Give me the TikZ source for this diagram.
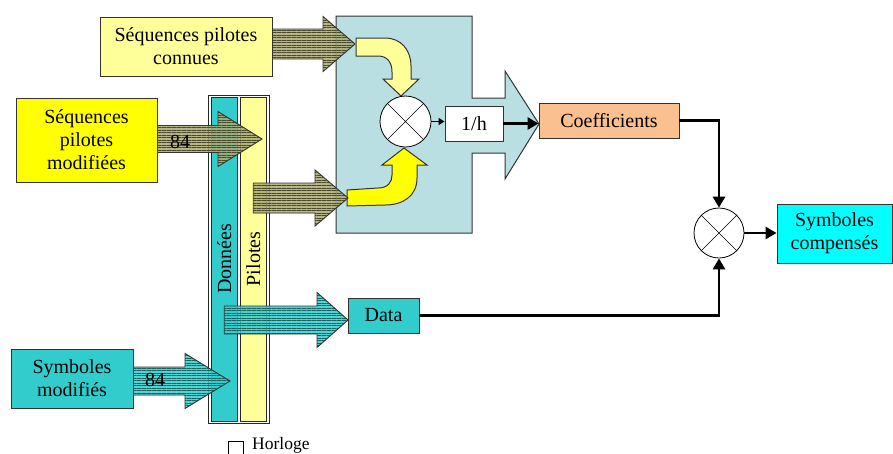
\documentclass[tikz,border=0pt]{standalone}
\usepackage{fontspec}
\setmainfont{Liberation Serif}
\usetikzlibrary{arrows.meta,patterns.meta,calc}
\definecolor{paleyellow}{HTML}{FFFF99}
\definecolor{brightyellow}{HTML}{FFFF00}
\definecolor{tealbox}{HTML}{33CCCC}
\definecolor{cyanbox}{HTML}{00FFFF}
\definecolor{peach}{HTML}{FAC090}
\definecolor{estimbg}{HTML}{BADFE2}
\definecolor{olivefill}{HTML}{A8A874}
\definecolor{olivehatch}{HTML}{4A4A2A}
\definecolor{tealhatch}{HTML}{186262}

% horizontal block arrow: style, start, tip, half shaft, half head, head length
\newcommand{\blockarrow}[6]{%
  \path[#1] let \p1=(#2), \p2=(#3) in
    (\x1,\y2+#4) -- (\x2-#6,\y2+#4) -- (\x2-#6,\y2+#5) -- (\x2,\y2)
    -- (\x2-#6,\y2-#5) -- (\x2-#6,\y2-#4) -- (\x1,\y2-#4) -- cycle;}

\begin{document}
\begin{tikzpicture}[x=1pt, y=-1pt, font=\fontsize{20}{23}\selectfont,
    box/.style={draw=black!80, line width=0.9pt, inner sep=0pt, align=center},
    bar/.style={draw=black!85, line width=0.9pt, inner sep=0pt, minimum width=324pt,
                minimum height=26.5pt, rotate=90},
    mult/.style={circle, draw, line width=0.8pt, fill=white, inner sep=0pt,
                 path picture={\draw[line width=0.6pt]
                   (path picture bounding box.north west) -- (path picture bounding box.south east)
                   (path picture bounding box.north east) -- (path picture bounding box.south west);}},
    shapeline/.style={draw=black!80, line width=1pt},
    olivearrow/.style={fill=olivefill, fill opacity=0.85,
                postaction={pattern={Lines[angle=0,distance=2.5pt,line width=1pt]},
                            pattern color=olivehatch},
                postaction={draw=black!80, line width=0.9pt}},
    tealarrow/.style={fill=tealbox, fill opacity=0.85,
                postaction={pattern={Lines[angle=0,distance=2.5pt,line width=1pt]},
                            pattern color=tealhatch},
                postaction={draw=black!80, line width=0.9pt}},
    link/.style={line width=2.8pt, -{Triangle[length=11pt,width=12pt]}},
  ]
  \useasboundingbox (0,0) rectangle (893,453);

  % estimation block
  \draw[shapeline, fill=estimbg] (336,16) -- (472,16) -- (472,98) -- (505,98)
    -- (505,71) -- (539,124) -- (505,179) -- (505,153) -- (472,153) -- (472,233)
    -- (336,233) -- cycle;
  \draw[shapeline, fill=paleyellow] (356,38) -- (385,38)
    .. controls (401,38) and (411,50) .. (411,66) -- (411,79) -- (419,79)
    -- (401,96) -- (383,79) -- (392,79) -- (392,72)
    .. controls (392,62) and (387,56) .. (378,56) -- (356,56) -- cycle;
  \draw[shapeline, fill=brightyellow] (347,190) -- (378,188)
    .. controls (388,188) and (392,182) .. (392,175) -- (392,165) -- (382,165)
    -- (404,148) -- (427,165) -- (417,165) -- (417,178)
    .. controls (417,196) and (403,205) .. (385,205) -- (347,206) -- cycle;
  \node[mult, minimum size=51pt] (mul1) at (405.5,121.5) {};
  \node[box, fill=white, minimum width=58pt, minimum height=35pt] (invh) at (474,123.5) {1/h};

  % sources
  \node[box, fill=paleyellow, minimum width=172pt, minimum height=59pt] (spc) at (186,46.5)
    {Séquences pilotes\\connues};
  \node[box, fill=brightyellow, minimum width=141pt, minimum height=84pt] (spm) at (86.5,140)
    {Séquences\\pilotes\\modifiées};
  \node[box, fill=tealbox, minimum width=122pt, minimum height=59pt] (symm) at (72,378.5)
    {Symboles\\modifiés};

  % demultiplexer
  \node[draw=black!85, line width=0.9pt, inner sep=0pt, minimum width=61pt,
        minimum height=328pt] (bars) at (238.5,259) {};
  \node[bar, fill=tealbox] (donnees) at (224.25,259) {Données};
  \node[bar, fill=paleyellow] (pilotes) at (253.25,259) {Pilotes};

  % outputs
  \node[box, fill=peach, minimum width=140pt, minimum height=35pt] (coef) at (609,120.5) {Coefficients};
  \node[box, fill=tealbox, minimum width=71pt, minimum height=35pt] (data) at (383.5,315.5) {Data};
  \node[mult, minimum size=50pt] (mul2) at (719,233) {};
  \node[box, fill=cyanbox, minimum width=115pt, minimum height=59pt] (symc) at (834.5,233.5)
    {Symboles\\compensés};

  % block arrows
  \coordinate (tipA) at (355,44);
  \coordinate (tipB) at (262,139);
  \coordinate (tipC) at (348,198);
  \coordinate (tipD) at (348,320);
  \coordinate (tipE) at (230,381);
  \blockarrow{olivearrow}{spc.east}{tipA}{15pt}{27.5pt}{32pt}
  \blockarrow{olivearrow}{spm.east}{tipB}{13.5pt}{27.5pt}{44pt}
  \blockarrow{olivearrow}{pilotes.center}{tipC}{15pt}{28pt}{33pt}
  \blockarrow{tealarrow}{donnees.center}{tipD}{14pt}{27.5pt}{31pt}
  \blockarrow{tealarrow}{symm.east}{tipE}{14pt}{27.5pt}{45pt}
  \node (cnta) at (180,142) {84};
  \node (cntb) at (155,380) {84};

  % links
  \draw[line width=1.5pt, -{Triangle[length=6pt,width=7pt]}] (mul1.east) -- (mul1.east -| invh.west);
  \draw[link] (invh.east) -- (invh.east -| coef.west);
  \draw[link] (coef.east) -| (mul2.north);
  \draw[link] (mul2.east) -- (mul2.east -| symc.west);
  \draw[link] (data.east) -| (mul2.south);

  % clock
  \node[draw, line width=0.9pt, inner sep=0pt, minimum size=15pt, anchor=north west] (clk) at (228,441) {};
  \node[font=\fontsize{17.5}{20}\selectfont, anchor=base west, inner sep=0pt] (clklabel) at (252,449) {Horloge};
\end{tikzpicture}
\end{document}
